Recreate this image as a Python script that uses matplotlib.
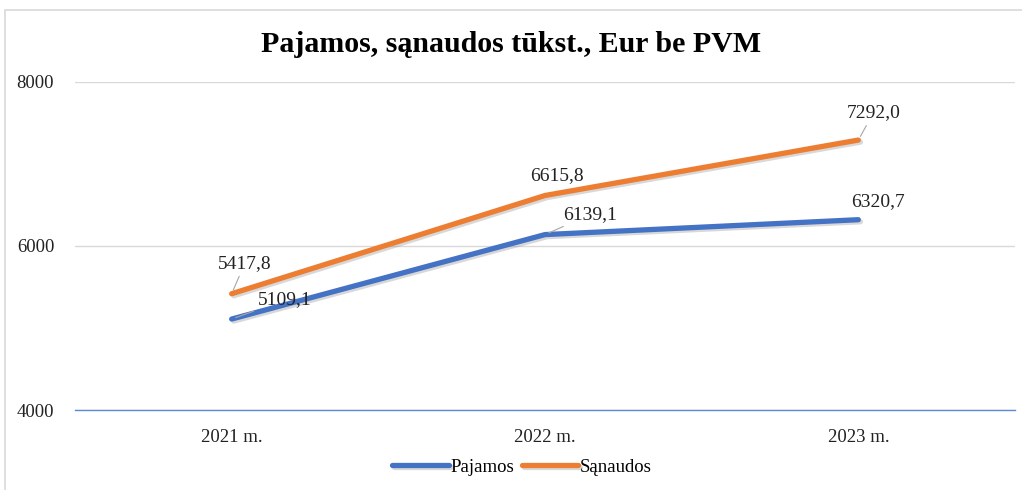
import matplotlib.pyplot as plt
import matplotlib.patheffects as pe
from matplotlib.patches import Rectangle

years = ['2021 m.', '2022 m.', '2023 m.']
pajamos = [5109.1, 6139.1, 6320.7]
sanaudos = [5417.8, 6615.8, 7292.0]

# label offsets in pixels (dx, dy) and whether a leader line is drawn
paj_offsets = [(53, 19, True), (45, 20, True), (20, 18, False)]
san_offsets = [(13, 30, True), (12, 20, False), (15, 27, True)]

plt.rcParams['font.family'] = ['Liberation Serif', 'DejaVu Serif']

fig = plt.figure(figsize=(10.22, 4.9), dpi=100)
ax = fig.add_axes([75 / 1022, 1 - 410 / 490, 940 / 1022, 328 / 490])

# outer chart border
fig.patches.append(Rectangle((5 / 1022, -0.05), 1.2, 1 - 10 / 490 + 0.05,
                             transform=fig.transFigure, fill=False,
                             edgecolor='#D9D9D9', linewidth=1.2))

x = range(len(years))
shadow = [pe.SimpleLineShadow(offset=(1.5, -1.5), alpha=0.3, shadow_color='#808080'), pe.Normal()]
ax.plot(x, pajamos, color='#4472C4', linewidth=3.8, solid_capstyle='round',
        label='Pajamos', path_effects=shadow, zorder=3)
ax.plot(x, sanaudos, color='#ED7D31', linewidth=3.8, solid_capstyle='round',
        label='Sąnaudos', path_effects=shadow, zorder=3)


def label_series(values, offsets):
    for i, (v, (dx, dy, leader)) in enumerate(zip(values, offsets)):
        txt = f'{v:.1f}'.replace('.', ',')
        arrow = dict(arrowstyle='-', color='#A6A6A6', lw=0.8, shrinkA=1, shrinkB=3) if leader else None
        ax.annotate(txt, (i, v), xytext=(dx, dy), textcoords='offset pixels',
                    ha='center', va='center', fontsize=14, color='#222222',
                    arrowprops=arrow, zorder=4)


label_series(pajamos, paj_offsets)
label_series(sanaudos, san_offsets)

ax.set_xlim(-0.5, 2.5)
ax.set_ylim(4000, 8000)
ax.set_yticks([4000, 6000, 8000])
ax.set_xticks(list(x))
ax.set_xticklabels(years)
ax.tick_params(axis='both', length=0, labelsize=13.5, colors='#222222')
ax.tick_params(axis='y', pad=15)
ax.tick_params(axis='x', pad=14)
ax.grid(axis='y', color='#D9D9D9', linewidth=1)
ax.set_axisbelow(True)
for s in ['top', 'right', 'left']:
    ax.spines[s].set_visible(False)
ax.spines['bottom'].set_color('#5B8BD6')
ax.spines['bottom'].set_linewidth(1)

fig.text(0.5, 1 - 45 / 490, 'Pajamos, sąnaudos tūkst., Eur be PVM', ha='center', va='center',
         fontsize=21.5, fontweight='bold')

fig.legend(loc='center', bbox_to_anchor=(522 / 1022, 1 - 467 / 490), ncol=2, frameon=False,
           fontsize=13.5, handlelength=3, handletextpad=0.1, columnspacing=0.4)

fig.savefig('out.png', dpi=100)
